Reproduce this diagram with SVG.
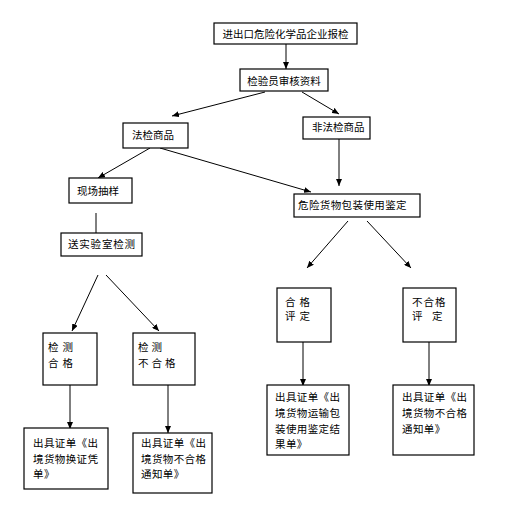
<svg xmlns="http://www.w3.org/2000/svg" width="520" height="519" viewBox="0 0 520 519">
<defs>
<marker id="ah" markerWidth="7" markerHeight="6" refX="7" refY="3" orient="auto" markerUnits="userSpaceOnUse">
<path d="M0,0 L7,3 L0,6 Z" fill="#000"/>
</marker>
<style>
.box{fill:#fff;stroke:#000;stroke-width:1.2}
.t{font-family:"Noto Sans CJK SC","Liberation Sans",sans-serif;font-size:10.5px;fill:#000}
.s{letter-spacing:0.4px}
.c line{stroke:#000;stroke-width:1}
.a{marker-end:url(#ah)}
</style>
</defs>
<rect width="520" height="519" fill="#fff"/>
<g class="c" id="connectors">
<line class="a" x1="286" y1="44" x2="286" y2="69"/>
<line class="a" x1="265" y1="92" x2="172" y2="116"/>
<line class="a" x1="302" y1="92" x2="339" y2="114"/>
<line class="a" x1="150" y1="148" x2="98" y2="178"/>
<line class="a" x1="160" y1="148" x2="311" y2="192"/>
<line class="a" x1="339" y1="139" x2="339" y2="186"/>
<line x1="96" y1="213" x2="96" y2="233"/>
<line class="a" x1="98" y1="275" x2="72" y2="331"/>
<line class="a" x1="106" y1="275" x2="159" y2="331"/>
<line class="a" x1="348" y1="221" x2="307" y2="268"/>
<line class="a" x1="367" y1="221" x2="411" y2="268"/>
<line class="a" x1="70" y1="385" x2="70" y2="429"/>
<line class="a" x1="168" y1="385" x2="168" y2="433"/>
<line class="a" x1="303" y1="342" x2="303" y2="386"/>
<line class="a" x1="429" y1="342" x2="429" y2="386"/>
</g>
<g id="n1"><rect class="box" x="214" y="23" width="143" height="21"/><text class="t" x="285.5" y="38" text-anchor="middle">进出口危险化学品企业报检</text></g>
<g id="n2"><rect class="box" x="240" y="69" width="88" height="22"/><text class="t" x="284" y="84.5" text-anchor="middle">检验员审核资料</text></g>
<g id="n3"><rect class="box" x="123" y="123" width="65" height="25"/><text class="t" x="132" y="139">法检商品</text></g>
<g id="n4"><rect class="box" x="303" y="117" width="67" height="22"/><text class="t" x="312" y="131">非法检商品</text></g>
<g id="n5"><rect class="box" x="69" y="178" width="63" height="25"/><text class="t" x="77" y="195">现场抽样</text></g>
<g id="n6"><rect class="box" x="294" y="194" width="126" height="23"/><text class="t" x="298" y="209" letter-spacing="0.4">危险货物包装使用鉴定</text></g>
<g id="n7"><rect class="box" x="61" y="233" width="81" height="23"/><text class="t" x="68" y="248" letter-spacing="0.8">送实验室检测</text></g>
<g id="n8"><rect class="box" x="43" y="333" width="54" height="52"/><text class="t" x="48" y="351" letter-spacing="4">检测</text><text class="t" x="48" y="367" letter-spacing="4">合格</text></g>
<g id="n9"><rect class="box" x="133" y="333" width="62" height="52"/><text class="t" x="138" y="351" letter-spacing="3">检测</text><text class="t" x="138" y="367" letter-spacing="3">不合格</text></g>
<g id="n10"><rect class="box" x="277" y="288" width="54" height="54"/><text class="t" x="285" y="306" letter-spacing="4">合格</text><text class="t" x="285" y="320" letter-spacing="4">评定</text></g>
<g id="n11"><rect class="box" x="403" y="288" width="53" height="54"/><text class="t" x="412" y="306" letter-spacing="1">不合格</text><text class="t" x="412" y="320" xml:space="preserve">评    定</text></g>
<g id="n12"><rect class="box" x="24" y="428" width="84" height="61"/><text class="t s" x="33" y="447">出具证单《出</text><text class="t s" x="33" y="463">境货物换证凭</text><text class="t s" x="33" y="478">单》</text></g>
<g id="n13"><rect class="box" x="133" y="433" width="79" height="60"/><text class="t s" x="141" y="447">出具证单《出</text><text class="t s" x="141" y="463">境货物不合格</text><text class="t s" x="141" y="478">通知单》</text></g>
<g id="n14"><rect class="box" x="267" y="385" width="82" height="70"/><text class="t s" x="275" y="401">出具证单《出</text><text class="t s" x="275" y="417">境货物运输包</text><text class="t s" x="275" y="433">装使用鉴定结</text><text class="t s" x="275" y="448">果单》</text></g>
<g id="n15"><rect class="box" x="393" y="385" width="81" height="70"/><text class="t s" x="402" y="401">出具证单《出</text><text class="t s" x="402" y="417">境货物不合格</text><text class="t s" x="402" y="433">通知单》</text></g>
</svg>
